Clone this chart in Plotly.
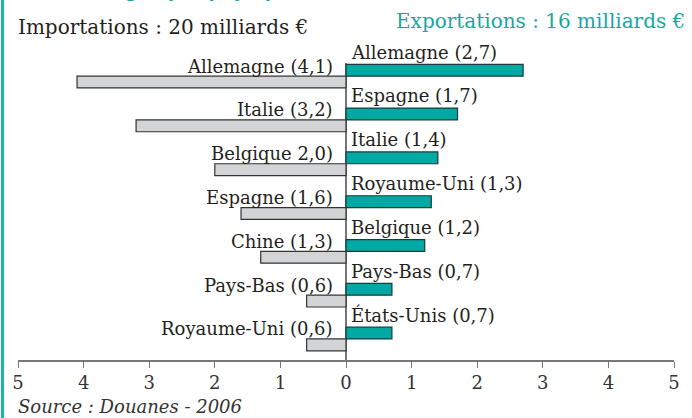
import plotly.graph_objects as go

# Data
import_countries = ["Allemagne", "Italie", "Belgique", "Espagne", "Chine", "Pays-Bas", "Royaume-Uni"]
import_values = [4.1, 3.2, 2.0, 1.6, 1.3, 0.6, 0.6]
import_labels = ["Allemagne (4,1)", "Italie (3,2)", "Belgique 2,0)", "Espagne (1,6)",
                 "Chine (1,3)", "Pays-Bas (0,6)", "Royaume-Uni (0,6)"]

export_countries = ["Allemagne", "Espagne", "Italie", "Royaume-Uni", "Belgique", "Pays-Bas", "États-Unis"]
export_values = [2.7, 1.7, 1.4, 1.3, 1.2, 0.7, 0.7]
export_labels = ["Allemagne (2,7)", "Espagne (1,7)", "Italie (1,4)", "Royaume-Uni (1,3)",
                 "Belgique (1,2)", "Pays-Bas (0,7)", "États-Unis (0,7)"]

tick_vals = [-5, -4, -3, -2, -1, 0, 1, 2, 3, 4, 5]
tick_text = ["5", "4", "3", "2", "1", "0", "1", "2", "3", "4", "5"]

rows = list(range(len(import_values)))

TEAL = "#00a9a3"
TEAL_TXT = "#16a8a0"
DARK = "#231f20"
FONT = "DejaVu Serif"

fig = go.Figure()
fig.add_trace(go.Bar(
    y=rows, x=export_values, orientation="h",
    width=0.27, offset=-0.27,
    marker=dict(color=TEAL, line=dict(color="#1d3b3a", width=1.2)),
    hoverinfo="skip", showlegend=False,
))
fig.add_trace(go.Bar(
    y=rows, x=[-v for v in import_values], orientation="h",
    width=0.27, offset=0.0,
    marker=dict(color="#d3d4d6", line=dict(color="#333333", width=1.2)),
    hoverinfo="skip", showlegend=False,
))

annotations = []
for i, lab in zip(rows, import_labels):
    annotations.append(dict(x=0, y=i, xref="x", yref="y", text=lab, showarrow=False,
                            xanchor="right", yanchor="middle", xshift=-11, yshift=10,
                            font=dict(family=FONT, size=18, color=DARK)))
for i, lab in zip(rows, export_labels):
    annotations.append(dict(x=0, y=i, xref="x", yref="y", text=lab, showarrow=False,
                            xanchor="left", yanchor="middle", xshift=3, yshift=24,
                            font=dict(family=FONT, size=18, color=DARK)))

annotations.append(dict(x=-0.003, y=1.121, xref="paper", yref="paper",
                        text="Importations : 20 milliards €", showarrow=False,
                        xanchor="left", yanchor="middle",
                        font=dict(family=FONT, size=20, color=DARK)))
annotations.append(dict(x=1.0198, y=1.141, xref="paper", yref="paper",
                        text="Exportations : 16 milliards €", showarrow=False,
                        xanchor="right", yanchor="middle",
                        font=dict(family=FONT, size=20, color=TEAL_TXT)))
annotations.append(dict(x=-0.003, y=-0.158, xref="paper", yref="paper",
                        text="<i>Source : Douanes - 2006</i>", showarrow=False,
                        xanchor="left", yanchor="middle",
                        font=dict(family=FONT, size=18, color="#333333")))
# partially visible title at the very top (cut off)
annotations.append(dict(x=0.058, y=1.203, xref="paper", yref="paper",
                        text="<b>Échanges par pays partenaires</b>", showarrow=False,
                        xanchor="left", yanchor="bottom",
                        font=dict(family="Liberation Sans", size=22, color=TEAL_TXT)))

shapes = [dict(type="line", xref="paper", yref="paper",
               x0=-0.0236, x1=-0.0236, y0=-0.3, y1=1.3,
               line=dict(color="#1ab3ad", width=3))]

fig.update_layout(
    width=692, height=418,
    margin=dict(l=17, r=17, t=63, b=58),
    paper_bgcolor="white", plot_bgcolor="white",
    barmode="overlay",
    font=dict(family=FONT),
    annotations=annotations,
    shapes=shapes,
    xaxis=dict(range=[-5, 5], tickvals=tick_vals, ticktext=tick_text,
               showgrid=False, zeroline=True, zerolinecolor="#777777", zerolinewidth=1.5,
               showline=True, linecolor="#777777", linewidth=1.5,
               ticks="outside", ticklen=6, tickcolor="#777777", tickwidth=1.2,
               tickfont=dict(family=FONT, size=18, color="#333333"),
               fixedrange=True),
    yaxis=dict(range=[6.48, -0.30], visible=False, showgrid=False, zeroline=False,
               fixedrange=True),
)

fig.write_html("out.html", config={"displayModeBar": False},
               post_script="document.body.style.margin='0px';document.body.style.overflow='hidden';")
